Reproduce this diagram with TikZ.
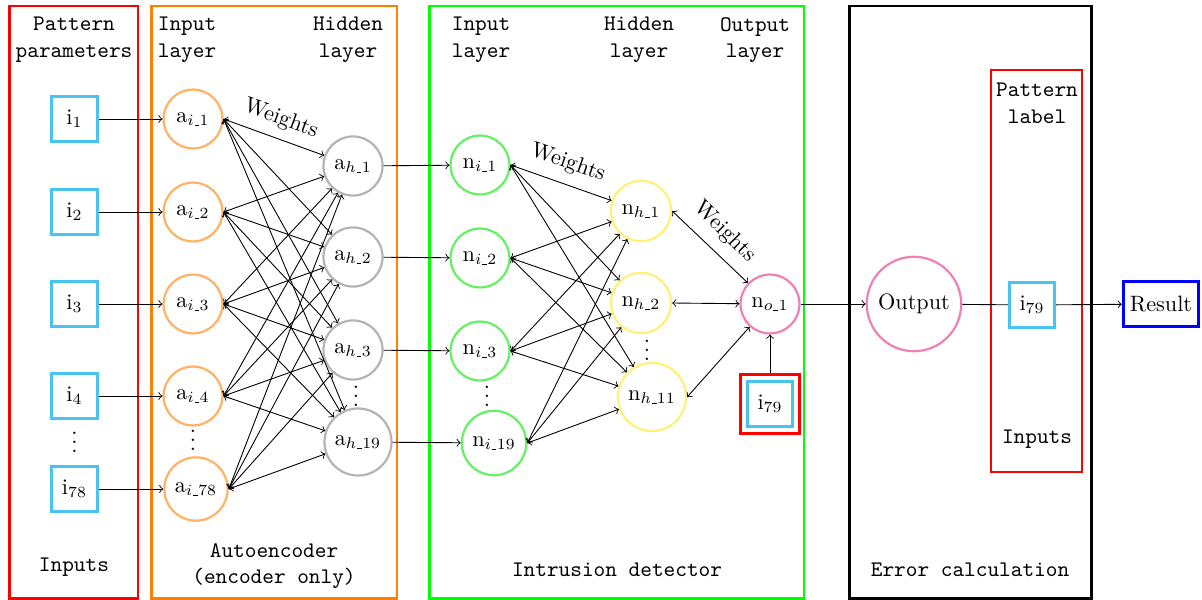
\documentclass[tikz,border=0pt]{standalone}
\usetikzlibrary{fit}
\definecolor{cybox}{RGB}{72,196,240}
\definecolor{pinkc}{RGB}{238,130,180}
\definecolor{orgc}{RGB}{255,178,102}
\definecolor{grayc}{RGB}{180,180,180}
\definecolor{greenc}{RGB}{102,240,102}
\definecolor{yellowc}{RGB}{255,240,120}
\definecolor{frameorange}{RGB}{255,128,0}
\newcommand\usc{\hbox{\kern.4pt\vbox{\hrule width 2.1pt height 0.35pt}\kern.2pt}}
\newcommand\mydots{\vbox{\baselineskip4pt\lineskiplimit0pt\hbox{.}\hbox{.}\hbox{.}}}
\begin{document}
\begin{tikzpicture}[x=0.45pt,y=-0.45pt,
  ibox/.style={draw=cybox, line width=1.2pt, minimum size=20.5pt, inner sep=2pt},
  neuron/.style={circle, line width=1pt, minimum size=26.5pt, inner sep=3.3pt},
  frame/.style={line width=1.3pt},
  lbl/.style={font=\ttfamily, align=center, inner sep=0pt},
  wlbl/.style={inner sep=1pt},
  dotsn/.style={inner sep=0pt}
]
\useasboundingbox (0,0) rectangle (1202,600);

% frames
\draw[frame, red] (9.5,6) rectangle (138,598.5);
\draw[frame, frameorange] (151.5,6) rectangle (397,598.5);
\draw[frame, green] (429.5,6) rectangle (804,598.5);
\draw[frame, black] (849.5,6) rectangle (1091.5,598.5);
\draw[frame, red] (991,70) rectangle (1082,472);

% labels
\node[lbl] (lpp) at (74,40) {Pattern\\parameters};
\node[lbl] (lin) at (74,567) {Inputs};
\node[lbl] (lail) at (187,40) {Input\\layer};
\node[lbl] (lahl) at (348,40) {Hidden\\layer};
\node[lbl] (lae) at (274,566) {Autoencoder\\(encoder only)};
\node[lbl] (lnil) at (481,40) {Input\\layer};
\node[lbl] (lnhl) at (639,40) {Hidden\\layer};
\node[lbl] (lnol) at (755,40) {Output\\layer};
\node[lbl] (lid) at (617,570) {Intrusion detector};
\node[lbl] (lec) at (970,570) {Error calculation};
\node[lbl] (lpl) at (1037,103) {Pattern\\label};
\node[lbl] (lin2) at (1037,439) {Inputs};

% inputs
\node[ibox] (i1) at (74.5,119) {i$_1$};
\node[ibox] (i2) at (74.5,212) {i$_2$};
\node[ibox] (i3) at (74.5,304) {i$_3$};
\node[ibox] (i4) at (74.5,396) {i$_4$};
\node[ibox] (i78) at (74.5,489) {i$_{78}$};
\node[dotsn] (di) at (74.5,442) {\mydots};

% autoencoder
\node[neuron, draw=orgc] (ai1) at (193,119) {a$_{i\usc1}$};
\node[neuron, draw=orgc] (ai2) at (193,212) {a$_{i\usc2}$};
\node[neuron, draw=orgc] (ai3) at (193,304) {a$_{i\usc3}$};
\node[neuron, draw=orgc] (ai4) at (193,396) {a$_{i\usc4}$};
\node[neuron, draw=orgc] (ai78) at (196,489) {a$_{i\usc78}$};
\node[dotsn] (dai) at (193,440) {\mydots};

\node[neuron, draw=grayc] (ah1) at (353,166) {a$_{h\usc1}$};
\node[neuron, draw=grayc] (ah2) at (353,257) {a$_{h\usc2}$};
\node[neuron, draw=grayc] (ah3) at (353,350) {a$_{h\usc3}$};
\node[neuron, draw=grayc] (ah19) at (358,442) {a$_{h\usc19}$};
\node[dotsn] (dah) at (356,396) {\mydots};

% intrusion detector
\node[neuron, draw=greenc] (ni1) at (480,165) {n$_{i\usc1}$};
\node[neuron, draw=greenc] (ni2) at (480,258) {n$_{i\usc2}$};
\node[neuron, draw=greenc] (ni3) at (480,351) {n$_{i\usc3}$};
\node[neuron, draw=greenc] (ni19) at (494,443) {n$_{i\usc19}$};
\node[dotsn] (dni) at (487,396) {\mydots};

\node[neuron, draw=yellowc] (nh1) at (641,211) {n$_{h\usc1}$};
\node[neuron, draw=yellowc] (nh2) at (641,303) {n$_{h\usc2}$};
\node[neuron, draw=yellowc] (nh11) at (652,397) {n$_{h\usc11}$};
\node[dotsn] (dnh) at (647,350) {\mydots};

\node[neuron, draw=pinkc] (no1) at (770,304) {n$_{o\usc1}$};
\node[ibox] (i79a) at (770,404) {i$_{79}$};
\node[draw=red, line width=1.3pt, fit=(i79a), inner sep=2.6pt] (i79r) {};

% error calculation
\node[circle, draw=pinkc, line width=1pt, minimum size=42.5pt, inner sep=1pt] (out) at (914,304) {Output};
\node[ibox] (i79b) at (1032,305) {i$_{79}$};
\node[draw=blue, line width=1.3pt, minimum height=20pt, inner sep=3pt] (res) at (1161,304) {Result};

% weights labels
\node[wlbl, rotate=-20] (w1) at (281,119) {Weights};
\node[wlbl, rotate=-19] (w2) at (568,163) {Weights};
\node[wlbl, rotate=-45] (w3) at (725,232) {Weights};

% connections
\foreach \k in {1,2,3,4,78} \draw[->] (i\k) -- (ai\k);
\foreach \a in {ai1,ai2,ai3,ai4,ai78}
  \foreach \h in {ah1,ah2,ah3,ah19}
    \draw[<->] (\a.east) -- (\h);
\foreach \k in {1,2,3,19} \draw[->] (ah\k) -- (ni\k);
\foreach \a in {ni1,ni2,ni3,ni19}
  \foreach \h in {nh1,nh2,nh11}
    \draw[<->] (\a.east) -- (\h);
\foreach \h in {nh1,nh2,nh11} \draw[<->] (\h.east) -- (no1);
\draw[->] (i79r) -- (no1);
\draw[->] (no1) -- (out);
\draw (out) -- (i79b);
\draw[->] (i79b) -- (res);
\end{tikzpicture}
\end{document}
